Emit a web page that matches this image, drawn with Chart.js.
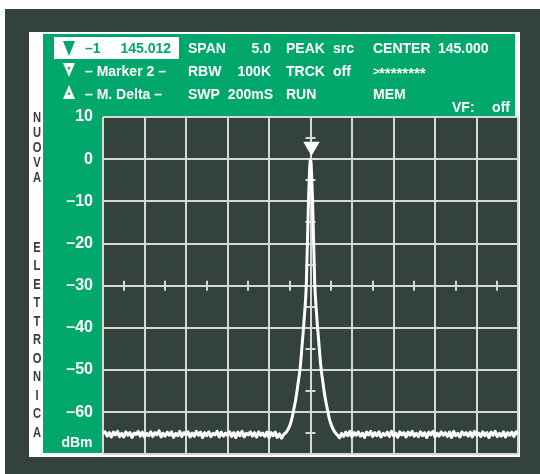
<!DOCTYPE html>
<html>
<head>
<meta charset="utf-8">
<script src="https://cdn.jsdelivr.net/npm/chart.js@4"></script>
<style>
  html, body { margin: 0; padding: 0; background: #fff; }
  canvas { display: block; }
</style>
</head>
<body>
<canvas id="scope" width="540" height="474"></canvas>
<script>
// sweep: one level per bin, 142.5 .. 147.5 MHz
const sweepStart = 142.5;
const sweepStep = 0.025;
const levels = [
  -65.1,-64.6,-65.7,-64.8,-65.9,-64.7,-65.4,-64.5,-65.8,-65.0,
  -65.9,-64.6,-65.5,-64.8,-66.0,-64.9,-65.3,-64.5,-65.7,-64.7,
  -65.9,-65.0,-65.6,-64.6,-65.8,-64.8,-65.4,-64.4,-65.9,-64.9,
  -65.7,-64.7,-65.5,-64.6,-66.0,-65.0,-65.6,-64.5,-65.8,-64.8,
  -65.4,-64.6,-65.9,-64.9,-65.7,-64.5,-65.5,-64.7,-66.0,-64.8,
  -65.6,-64.6,-65.8,-65.0,-65.4,-64.5,-65.9,-64.7,-65.7,-64.9,
  -65.5,-64.6,-65.8,-64.8,-66.0,-64.7,-65.6,-64.5,-65.9,-65.0,
  -65.4,-64.6,-65.7,-64.8,-65.9,-64.6,-65.5,-64.9,-65.8,-64.7,
  -66.1,-64.8,-65.6,-64.7,-66.0,-65.1,-66.2,-65.3,
  -64.9,-64.2,-63.2,-61.6,-59.2,-56.6,-53.2,-49.6,-43.8,-37.6,-29.5,-10.5,
  0,
  -10.0,-29.0,-37.2,-43.4,-49.2,-53.0,-56.4,-59.0,-61.4,-63.0,-64.1,-64.9,
  -65.4,-66.1,-65.0,-65.8,-64.7,-65.6,-64.5,-65.9,-64.8,-65.5,
  -64.6,-65.7,-64.9,-66.0,-64.7,-65.4,-64.5,-65.8,-64.8,-65.6,
  -64.6,-65.9,-65.0,-65.5,-64.7,-65.8,-64.5,-65.6,-64.9,-66.0,
  -64.6,-65.4,-64.8,-65.9,-64.7,-65.5,-64.5,-65.7,-65.0,-65.8,
  -64.6,-65.6,-64.8,-66.0,-64.7,-65.4,-64.5,-65.9,-64.9,-65.7,
  -64.6,-65.5,-64.8,-65.8,-64.7,-66.0,-64.5,-65.6,-65.0,-65.9,
  -64.6,-65.4,-64.8,-65.7,-64.7,-65.9,-64.5,-65.5,-64.9,-65.8,
  -64.6,-65.6,-64.8,-66.0,-64.7,-65.5,-64.5,-65.8,-65.0,-65.7,
  -64.6,-65.9,-64.8,-65.5,-64.7,-65.8,-64.6,-65.3
];
const markerFreq = 145.012;
const markerLevel = 3;
const centerFreq = 145.0;
const yTicks = [10, 0, -10, -20, -30, -40, -50, -60, -70];
const xGrid = [142.5, 143, 143.5, 144, 144.5, 145, 145.5, 146, 146.5, 147, 147.5];
const yMinor = [5, -5, -15, -25, -35, -45, -55, -65];
const xMinor = [142.75, 143.25, 143.75, 144.25, 144.75, 145.25, 145.75, 146.25, 146.75, 147.25];

const GREEN = '#02a86b';
const DARK = '#33423a';
const GRID = '#d6d8d6';
const FONT = '"Liberation Sans", Arial, sans-serif';

function txt(ctx, s, x, y, opts = {}) {
  ctx.font = `bold ${opts.size || 14}px ${FONT}`;
  ctx.fillStyle = opts.color || '#fff';
  ctx.textAlign = opts.align || 'left';
  ctx.textBaseline = 'alphabetic';
  ctx.fillText(s, x, y);
}

function tri(ctx, pts, color) {
  ctx.beginPath();
  ctx.moveTo(pts[0], pts[1]);
  ctx.lineTo(pts[2], pts[3]);
  ctx.lineTo(pts[4], pts[5]);
  ctx.closePath();
  ctx.fillStyle = color;
  ctx.fill();
}

const panel = {
  id: 'panel',
  beforeDraw(chart) {
    const ctx = chart.ctx;
    const a = chart.chartArea;
    ctx.save();
    ctx.fillStyle = '#fff';
    ctx.fillRect(0, 0, 540, 474);
    ctx.fillStyle = DARK;
    ctx.fillRect(5, 9, 535, 465);
    ctx.fillStyle = '#fff';
    ctx.fillRect(29, 32, 491, 425);
    ctx.fillStyle = GREEN;
    ctx.fillRect(43, 34, 472, 419);
    ctx.fillStyle = DARK;
    ctx.fillRect(a.left, a.top, a.right - a.left, a.bottom - a.top);

    // highlighted marker row
    ctx.fillStyle = '#fff';
    ctx.fillRect(54, 37, 125, 22);
    tri(ctx, [63, 41, 75, 41, 69, 56], GREEN);
    txt(ctx, '–1', 85, 53, { color: GREEN });
    txt(ctx, '145.012', 171, 53, { color: GREEN, align: 'right' });

    tri(ctx, [63, 63, 75, 63, 69, 77], '#fff');
    tri(ctx, [67.6, 67, 70.4, 67, 69, 70.5], GREEN);
    txt(ctx, '– Marker 2 –', 85, 76);
    tri(ctx, [63, 99, 75, 99, 69, 85], '#fff');
    tri(ctx, [67.6, 95, 70.4, 95, 69, 91.5], GREEN);
    txt(ctx, '– M. Delta –', 85, 99);

    txt(ctx, 'SPAN', 188, 53);
    txt(ctx, '5.0', 271, 53, { align: 'right' });
    txt(ctx, 'RBW', 188, 76);
    txt(ctx, '100K', 271, 76, { align: 'right' });
    txt(ctx, 'SWP', 188, 99);
    txt(ctx, '200mS', 273, 99, { align: 'right' });

    txt(ctx, 'PEAK', 286, 53);
    txt(ctx, 'src', 333, 53);
    txt(ctx, 'TRCK', 286, 76);
    txt(ctx, 'off', 333, 76);
    txt(ctx, 'RUN', 286, 99);

    txt(ctx, 'CENTER', 373, 53);
    txt(ctx, '145.000', 438, 53);
    txt(ctx, '>', 373, 75, { size: 11 });
    txt(ctx, '********', 379, 78, { size: 15 });
    txt(ctx, 'MEM', 373, 99);

    txt(ctx, 'VF:', 452, 112);
    txt(ctx, 'off', 510, 112, { align: 'right' });

    txt(ctx, 'dBm', 77, 447, { align: 'center' });

    // vertical brand text
    ctx.fillStyle = '#3a3d3b';
    ctx.textAlign = 'center';
    ctx.textBaseline = 'middle';
    ctx.font = `bold 14px ${FONT}`;
    const brand = [['NUOVA', 117, 15], ['ELETTRONICA', 247, 18.5]];
    brand.forEach(([word, y0, step]) => {
      [...word].forEach((ch, i) => {
        ctx.save();
        ctx.translate(37, y0 + i * step);
        ctx.scale(0.8, 1);
        ctx.fillText(ch, 0, 1);
        ctx.restore();
      });
    });
    ctx.restore();
  },
  beforeDatasetsDraw(chart) {
    const ctx = chart.ctx;
    const x = chart.scales.x, y = chart.scales.y;
    const cx = x.getPixelForValue(centerFreq);
    const cy = y.getPixelForValue(-30);
    ctx.save();
    ctx.strokeStyle = GRID;
    ctx.lineWidth = 2;
    ctx.beginPath();
    yMinor.forEach(v => {
      const py = Math.round(y.getPixelForValue(v));
      ctx.moveTo(cx - 5, py);
      ctx.lineTo(cx + 5, py);
    });
    xMinor.forEach(v => {
      const px = Math.round(x.getPixelForValue(v));
      ctx.moveTo(px, cy - 5);
      ctx.lineTo(px, cy + 5);
    });
    ctx.stroke();
    ctx.restore();
  }
};

const trace = levels.map((v, i) => ({ x: sweepStart + i * sweepStep, y: v }));

new Chart(document.getElementById('scope'), {
  type: 'line',
  data: {
    datasets: [
      {
        data: [{ x: markerFreq, y: markerLevel }],
        showLine: false,
        pointStyle: 'triangle',
        rotation: 180,
        pointRadius: 9.5,
        pointBackgroundColor: '#fff',
        pointBorderWidth: 0,
        order: 0,
      },
      {
        data: trace,
        borderColor: '#fff',
        borderWidth: 3,
        pointRadius: 0,
        cubicInterpolationMode: 'monotone',
        order: 1,
      },
    ],
  },
  options: {
    responsive: false,
    animation: false,
    events: [],
    layout: { padding: { left: 43, right: 22, top: 117, bottom: 19 } },
    plugins: { legend: { display: false }, tooltip: { enabled: false } },
    scales: {
      x: {
        type: 'linear', min: 142.5, max: 147.5,
        afterBuildTicks: s => { s.ticks = xGrid.map(v => ({ value: v })); },
        afterFit: s => { s.height = 0; },
        ticks: { display: false },
        grid: { color: GRID, lineWidth: 2, drawTicks: false },
        border: { display: false },
      },
      y: {
        min: -70, max: 10,
        afterBuildTicks: s => { s.ticks = yTicks.map(v => ({ value: v })); },
        afterFit: s => { s.width = 60; },
        ticks: {
          color: '#fff', padding: 10,
          font: { family: FONT, size: 16, weight: 'bold' },
          callback: v => v === -70 ? '' : String(v).replace('-', '–'),
        },
        grid: { color: GRID, lineWidth: 2, drawTicks: false },
        border: { display: false },
      },
    },
  },
  plugins: [panel],
});
</script>
</body>
</html>
